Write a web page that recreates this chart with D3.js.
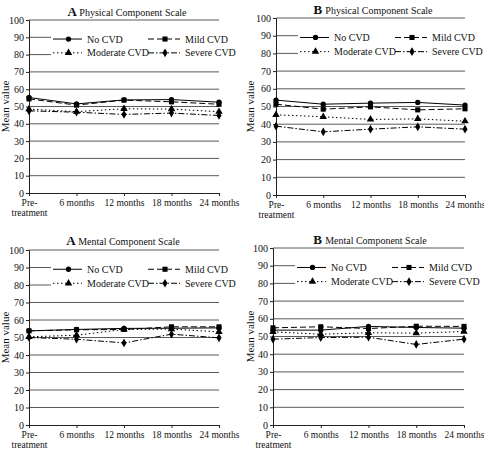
<!DOCTYPE html>
<html><head><meta charset="utf-8">
<script src="https://cdn.jsdelivr.net/npm/d3@7"></script>
<style>html,body{margin:0;padding:0;background:#fff}svg{display:block}
svg, svg text{font-family:"Liberation Serif","Times New Roman",Times,serif !important}</style>
</head><body>
<script>
const categories = ["Pre-treatment","6 months","12 months","18 months","24 months"];
const seriesNames = ["No CVD","Mild CVD","Moderate CVD","Severe CVD"];
const yTicks = [0,10,20,30,40,50,60,70,80,90,100];

const physA_noCVD    = [55.2,51.5,53.8,54.0,52.5];
const physA_mild     = [54.4,50.8,53.7,52.7,51.3];
const physA_moderate = [48.5,47.0,48.7,48.5,47.0];
const physA_severe   = [47.5,46.7,45.4,46.2,44.8];

const physB_noCVD    = [53.6,51.3,51.9,52.3,50.8];
const physB_mild     = [51.3,48.5,49.8,48.1,48.7];
const physB_moderate = [45.3,44.2,42.7,43.0,41.7];
const physB_severe   = [38.9,35.7,37.2,38.5,37.2];

const mentA_noCVD    = [53.8,54.6,55.2,55.3,55.5];
const mentA_mild     = [53.8,54.4,54.6,56.1,56.1];
const mentA_moderate = [50.4,51.3,54.6,54.8,53.2];
const mentA_severe   = [50.0,49.0,46.9,51.9,49.8];

const mentB_noCVD    = [53.6,53.6,55.7,55.1,54.7];
const mentB_mild     = [54.9,55.5,54.5,55.8,55.7];
const mentB_moderate = [52.6,51.3,52.1,51.9,52.8];
const mentB_severe   = [48.5,49.4,49.6,45.5,48.5];

const panels = [
  {letter:"A", title:"Physical Component Scale", data:[physA_noCVD,physA_mild,physA_moderate,physA_severe],
   x0:29,x1:219,y0:193,y1:20, titleX:127,titleY:16, yLabX:9},
  {letter:"B", title:"Physical Component Scale", data:[physB_noCVD,physB_mild,physB_moderate,physB_severe],
   x0:276,x1:465,y0:195,y1:18, titleX:373,titleY:14, yLabX:254},
  {letter:"A", title:"Mental Component Scale", data:[mentA_noCVD,mentA_mild,mentA_moderate,mentA_severe],
   x0:29,x1:219,y0:425,y1:250, titleX:123,titleY:245, yLabX:9},
  {letter:"B", title:"Mental Component Scale", data:[mentB_noCVD,mentB_mild,mentB_moderate,mentB_severe],
   x0:273,x1:464,y0:425,y1:248, titleX:370,titleY:244, yLabX:254}
];

const dashes = [null,"6,3","1.5,2.5","6,2,1.5,2"];
const markers = [d3.symbolCircle,d3.symbolSquare,d3.symbolTriangle,d3.symbolDiamond];
const markerSize = [22,26,24,22];

const W=484,H=449;
const svg = d3.select("body").append("svg").attr("width",W).attr("height",H);

panels.forEach(p=>{
  const g = svg.append("g");
  const x = d3.scalePoint().domain(categories).range([p.x0,p.x1]).padding(0);
  const y = d3.scaleLinear().domain([0,100]).range([p.y0,p.y1]);

  g.selectAll("line.grid").data(yTicks.filter(t=>t>0)).join("line")
    .attr("x1",p.x0).attr("x2",p.x1).attr("y1",d=>y(d)).attr("y2",d=>y(d))
    .attr("stroke","#5a5a5a").attr("stroke-width",1);

  const ya = g.append("g").attr("transform",`translate(${p.x0},0)`)
    .call(d3.axisLeft(y).tickValues(yTicks).tickSize(3).tickPadding(2));
  ya.select(".domain").attr("stroke","#222");
  ya.selectAll(".tick line").attr("stroke","#222");
  ya.selectAll("text").attr("font-size",10).attr("fill","#111").attr("dy","0.3em");

  const xa = g.append("g").attr("transform",`translate(0,${p.y0})`)
    .call(d3.axisBottom(x).tickSize(3).tickPadding(3).tickFormat(""));
  xa.select(".domain").attr("stroke","#222");
  xa.selectAll(".tick line").attr("stroke","#222");
  xa.selectAll(".tick").each(function(d){
    const t = d3.select(this).append("text").attr("fill","#111").attr("font-size",9.5)
      .attr("text-anchor","middle").attr("y",13);
    if(d==="Pre-treatment"){
      t.append("tspan").attr("x",0).text("Pre-");
      t.append("tspan").attr("x",0).attr("dy",10).text("treatment");
    } else t.text(d);
  });

  const tt = g.append("text").attr("x",p.titleX).attr("y",p.titleY).attr("text-anchor","middle")
    .attr("font-size",10).attr("fill","#111");
  tt.append("tspan").attr("font-weight","bold").attr("font-size",13).text(p.letter+" ");
  tt.append("tspan").text(p.title);

  g.append("text").attr("transform",`translate(${p.yLabX},${(p.y0+p.y1)/2}) rotate(-90)`)
    .attr("text-anchor","middle").attr("font-size",11).attr("fill","#111").text("Mean value");

  const line = d3.line().x((d,i)=>x(categories[i])).y(d=>y(d));
  p.data.forEach((vals,si)=>{
    g.append("path").datum(vals).attr("d",line).attr("fill","none").attr("stroke","#000")
      .attr("stroke-width",1).attr("stroke-dasharray",dashes[si]);
    g.selectAll(null).data(vals).join("path")
      .attr("transform",(d,i)=>`translate(${x(categories[i])},${y(d)})`)
      .attr("d",d3.symbol().type(markers[si]).size(markerSize[si])).attr("fill","#000");
  });

  const lg = g.append("g");
  lg.append("rect").attr("x",p.x0+22).attr("y",y(93)).attr("width",p.x1-p.x0-22)
    .attr("height",y(76)-y(93)).attr("fill","#fff");
  seriesNames.forEach((name,si)=>{
    const col = si%2, row = Math.floor(si/2);
    const sx = p.x0 + (col===0?24:119);
    const sw = col===0?29:32;
    const ly = y(row===0?89:81);
    lg.append("line").attr("x1",sx).attr("x2",sx+sw).attr("y1",ly).attr("y2",ly)
      .attr("stroke","#000").attr("stroke-width",1).attr("stroke-dasharray",dashes[si]);
    lg.append("path").attr("transform",`translate(${sx+sw/2+1},${ly})`)
      .attr("d",d3.symbol().type(markers[si]).size(markerSize[si])).attr("fill","#000");
    lg.append("text").attr("x",sx+sw+5).attr("y",ly+3.5).attr("font-size",10).attr("fill","#111").text(name);
  });
});
</script>
</body></html>
